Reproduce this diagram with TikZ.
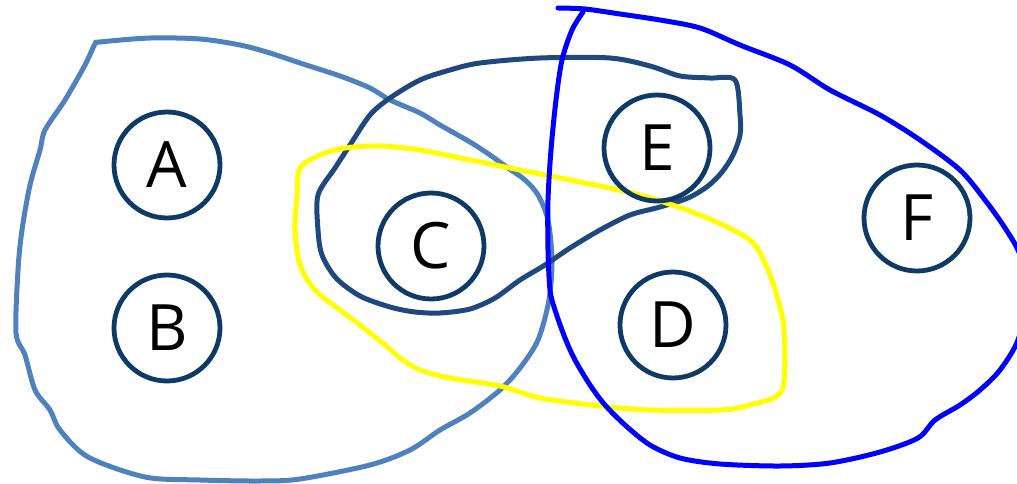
\documentclass[tikz,border=0pt]{standalone}
\usepackage{fontspec}
\setmainfont{Open Sans}
\definecolor{circ}{RGB}{14,58,102}
\definecolor{lblue}{RGB}{79,129,189}
\definecolor{dblue}{RGB}{31,73,125}
\definecolor{pblue}{RGB}{0,0,255}
\definecolor{yel}{RGB}{255,255,0}
\begin{document}
\begin{tikzpicture}[x=1pt,y=-1pt,
  vcirc/.style={circle,draw=circ,line width=4.8pt,minimum size=106pt,inner sep=0pt,
    font=\fontsize{64}{64}\selectfont,text=black},
  blob/.style={line width=5pt,line join=round,line cap=round}]
\useasboundingbox (0,0) rectangle (1017,484);
\draw[blob,lblue] plot[smooth cycle,tension=0.5] coordinates{
 (95,44) (85,65) (65,100) (45,130) (40,150) (30,185) (22,230) (18,270) (16,333)
 (25,355) (35,390) (50,410) (60,430) (88,457) (145,477) (200,480) (260,481) (300,479)
 (370,465) (410,450) (440,430) (470,413) (500,390) (520,368) (538,340) (549,300)
 (552,260) (548,220) (538,195) (525,180) (508,168) (490,155) (470,142) (440,125)
 (420,113) (390,100) (370,88) (340,76) (300,63) (270,53) (240,45) (200,39) (150,38) (100,42)};
\draw[blob,dblue] plot[smooth cycle,tension=0.5] coordinates{
 (735,80) (740,115) (740,135) (733,155) (722,172) (708,186) (688,198) (660,207)
 (630,215) (600,230) (570,248) (545,265) (520,280) (495,298) (470,309) (440,313)
 (415,312) (390,307) (360,296) (336,278) (322,255) (318,230) (318,195) (335,168)
 (350,145) (370,115) (390,98) (420,80) (450,70) (480,63) (540,58) (610,58) (650,66)
 (680,76) (710,78)};
\draw[blob,yel] plot[smooth cycle,tension=0.5] coordinates{
 (300,168) (320,155) (345,148) (380,146) (420,150) (470,160) (530,172) (580,182)
 (640,195) (700,215) (750,240) (768,270) (778,300) (784,330) (782,390) (750,405)
 (720,410) (650,410) (600,406) (540,398) (500,386) (450,378) (420,370) (400,358)
 (385,345) (360,325) (340,310) (315,290) (300,265) (295,230) (297,195)};
\draw[blob,pblue] plot[smooth,tension=0.5] coordinates{
 (558,8) (585,9) (620,14) (660,20) (700,28) (740,45) (790,65) (830,90) (880,115)
 (920,140) (960,170) (985,200) (1005,228) (1020,255) (1028,295) (1018,340)
 (1000,370) (980,390) (960,405) (935,420) (918,438) (880,452) (830,463) (780,466)
 (720,464) (680,458) (650,445) (625,425) (605,405) (590,385) (575,360) (565,338)
 (555,310) (550,290) (548,250) (548,200) (551,150) (556,100) (562,60) (572,30) (583,12)};
\node[vcirc] (A) at (167,165) {A};
\node[vcirc] (B) at (167,328) {B};
\node[vcirc] (C) at (431,246) {C};
\node[vcirc] (E) at (657,148) {E};
\node[vcirc] (D) at (673,325) {D};
\node[vcirc] (F) at (917,218) {F};
\end{tikzpicture}
\end{document}
